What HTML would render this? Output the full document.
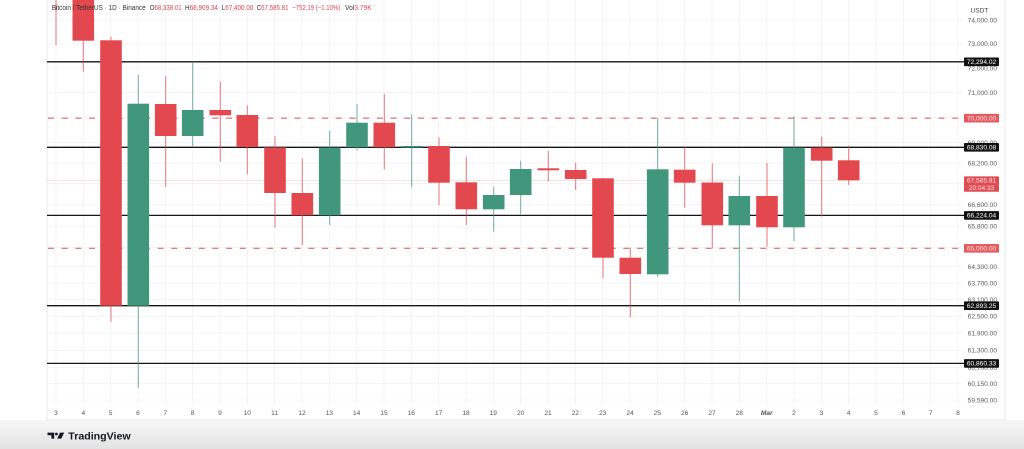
<!DOCTYPE html>
<html><head><meta charset="utf-8"><style>
html,body{margin:0;padding:0;background:#fff;}
svg{display:block;font-family:"Liberation Sans",Arial,sans-serif;}
</style></head><body>
<svg width="1024" height="449" viewBox="0 0 1024 449" xmlns="http://www.w3.org/2000/svg">
<defs>
<linearGradient id="bg" x1="0" y1="0" x2="0" y2="1">
<stop offset="0" stop-color="#f7f7f7"/><stop offset="1" stop-color="#e2e2e2"/>
</linearGradient>
</defs>
<rect x="0" y="0" width="1024" height="449" fill="#fff"/>
<rect x="0" y="420" width="1024" height="29" fill="url(#bg)"/>
<rect x="47" y="-2" width="958" height="422" fill="#fff" stroke="#e4e4e4" stroke-width="0.8"/>

<!-- horizontal grid -->
<g stroke="#f1f1f1" stroke-width="0.8">
<line x1="47" x2="963" y1="20" y2="20"/><line x1="47" x2="963" y1="43.9" y2="43.9"/>
<line x1="47" x2="963" y1="68.1" y2="68.1"/><line x1="47" x2="963" y1="92.6" y2="92.6"/>
<line x1="47" x2="963" y1="117.5" y2="117.5"/><line x1="47" x2="963" y1="142.7" y2="142.7"/>
<line x1="47" x2="963" y1="163.2" y2="163.2"/><line x1="47" x2="963" y1="183.7" y2="183.7"/>
<line x1="47" x2="963" y1="204.8" y2="204.8"/><line x1="47" x2="963" y1="226.1" y2="226.1"/>
<line x1="47" x2="963" y1="247.5" y2="247.5"/><line x1="47" x2="963" y1="266.5" y2="266.5"/>
<line x1="47" x2="963" y1="283" y2="283"/><line x1="47" x2="963" y1="299.6" y2="299.6"/>
<line x1="47" x2="963" y1="316.3" y2="316.3"/><line x1="47" x2="963" y1="333.2" y2="333.2"/>
<line x1="47" x2="963" y1="350.4" y2="350.4"/><line x1="47" x2="963" y1="367.6" y2="367.6"/>
<line x1="47" x2="963" y1="383.6" y2="383.6"/><line x1="47" x2="963" y1="400" y2="400"/>
</g>
<!-- vertical grid -->
<g stroke="#f1f1f1" stroke-width="0.8">
<line y1="0" y2="405" x1="56" x2="56"/><line y1="0" y2="405" x1="83.3" x2="83.3"/><line y1="0" y2="405" x1="110.6" x2="110.6"/><line y1="0" y2="405" x1="138" x2="138"/><line y1="0" y2="405" x1="165.3" x2="165.3"/><line y1="0" y2="405" x1="192.6" x2="192.6"/><line y1="0" y2="405" x1="220" x2="220"/><line y1="0" y2="405" x1="247.3" x2="247.3"/><line y1="0" y2="405" x1="274.6" x2="274.6"/><line y1="0" y2="405" x1="302" x2="302"/><line y1="0" y2="405" x1="329.3" x2="329.3"/><line y1="0" y2="405" x1="356.7" x2="356.7"/><line y1="0" y2="405" x1="384" x2="384"/><line y1="0" y2="405" x1="411.3" x2="411.3"/><line y1="0" y2="405" x1="438.7" x2="438.7"/><line y1="0" y2="405" x1="466" x2="466"/><line y1="0" y2="405" x1="493.3" x2="493.3"/><line y1="0" y2="405" x1="520.7" x2="520.7"/><line y1="0" y2="405" x1="548" x2="548"/><line y1="0" y2="405" x1="575.3" x2="575.3"/><line y1="0" y2="405" x1="602.7" x2="602.7"/><line y1="0" y2="405" x1="630" x2="630"/><line y1="0" y2="405" x1="657.3" x2="657.3"/><line y1="0" y2="405" x1="684.7" x2="684.7"/><line y1="0" y2="405" x1="712" x2="712"/><line y1="0" y2="405" x1="739.3" x2="739.3"/><line y1="0" y2="405" x1="766.7" x2="766.7"/><line y1="0" y2="405" x1="794" x2="794"/><line y1="0" y2="405" x1="821.4" x2="821.4"/><line y1="0" y2="405" x1="848.7" x2="848.7"/><line y1="0" y2="405" x1="876" x2="876"/><line y1="0" y2="405" x1="903.4" x2="903.4"/><line y1="0" y2="405" x1="930.7" x2="930.7"/><line y1="0" y2="405" x1="958" x2="958"/>
</g>
<!-- current price line -->
<line x1="47" x2="860" y1="180.3" y2="180.3" stroke="#efdcdc" stroke-width="0.9"/>

<!-- level lines -->
<g stroke="#161616" stroke-width="1.3">
<line x1="47" x2="964" y1="61.8" y2="61.8"/>
<line x1="47" x2="964" y1="147.3" y2="147.3"/>
<line x1="47" x2="964" y1="215.4" y2="215.4"/>
<line x1="47" x2="964" y1="305.7" y2="305.7"/>
<line x1="47" x2="964" y1="363.4" y2="363.4"/>
</g>
<g stroke="#e06868" stroke-width="1.1" stroke-dasharray="6 7.7">
<line x1="48" x2="964" y1="118.2" y2="118.2"/>
<line x1="48" x2="964" y1="248.3" y2="248.3"/>
</g>

<!-- candles -->
<g stroke-width="1" stroke-opacity="0.75">
<!-- red wicks -->
<g stroke="#e4484f">
<line x1="56" x2="56" y1="0" y2="45"/>
<line x1="83.3" x2="83.3" y1="0" y2="71.7"/>
<line x1="111" x2="111" y1="36.7" y2="321.7"/>
<line x1="165.7" x2="165.7" y1="76" y2="187"/>
<line x1="220.3" x2="220.3" y1="81.7" y2="161.7"/>
<line x1="247.3" x2="247.3" y1="105.3" y2="174.3"/>
<line x1="275" x2="275" y1="136" y2="227.7"/>
<line x1="302.3" x2="302.3" y1="158.3" y2="245"/>
<line x1="384.3" x2="384.3" y1="94" y2="169.3"/>
<line x1="439" x2="439" y1="137.3" y2="205"/>
<line x1="466.3" x2="466.3" y1="156.7" y2="225"/>
<line x1="548.3" x2="548.3" y1="151" y2="181"/>
<line x1="575.7" x2="575.7" y1="162.7" y2="190"/>
<line x1="603" x2="603" y1="177.7" y2="278.3"/>
<line x1="630.3" x2="630.3" y1="247.7" y2="317.3"/>
<line x1="684.7" x2="684.7" y1="147.3" y2="207.7"/>
<line x1="712.3" x2="712.3" y1="163.3" y2="248.3"/>
<line x1="767" x2="767" y1="163.3" y2="246.7"/>
<line x1="821.7" x2="821.7" y1="136.7" y2="216.7"/>
<line x1="848.7" x2="848.7" y1="145.7" y2="185"/>
</g>
<g stroke="#40977c">
<line x1="138.3" x2="138.3" y1="75" y2="388"/>
<line x1="192.7" x2="192.7" y1="61.7" y2="146"/>
<line x1="329.7" x2="329.7" y1="130.7" y2="225"/>
<line x1="357" x2="357" y1="104" y2="150.7"/>
<line x1="411.7" x2="411.7" y1="114.3" y2="187.3"/>
<line x1="493.7" x2="493.7" y1="186.7" y2="231.7"/>
<line x1="520.7" x2="520.7" y1="160.7" y2="214"/>
<line x1="657.7" x2="657.7" y1="118.3" y2="276.7"/>
<line x1="739.3" x2="739.3" y1="175.7" y2="301.7"/>
<line x1="794" x2="794" y1="116" y2="241"/>
</g>
</g>
<g fill="#e4484f">
<rect x="72.5" y="-1" width="21.6" height="41.7"/>
<rect x="100.2" y="40.3" width="21.6" height="265.4"/>
<rect x="154.9" y="104" width="21.6" height="32"/>
<rect x="209.5" y="110" width="21.6" height="5.3"/>
<rect x="236.5" y="115" width="21.6" height="32"/>
<rect x="264.2" y="147.5" width="21.6" height="45.5"/>
<rect x="291.5" y="193" width="21.6" height="22.3"/>
<rect x="373.5" y="122.7" width="21.6" height="24.6"/>
<rect x="428.2" y="146" width="21.6" height="36.7"/>
<rect x="455.5" y="182.3" width="21.6" height="27"/>
<rect x="537.5" y="168.3" width="21.6" height="2"/>
<rect x="564.9" y="170" width="21.6" height="9"/>
<rect x="592.2" y="178.3" width="21.6" height="79.4"/>
<rect x="619.5" y="257.7" width="21.6" height="16.3"/>
<rect x="673.9" y="169.7" width="21.6" height="13"/>
<rect x="701.5" y="182.5" width="21.6" height="42.8"/>
<rect x="756.2" y="196" width="21.6" height="31.3"/>
<rect x="810.9" y="147.7" width="21.6" height="13"/>
<rect x="837.9" y="160.3" width="21.6" height="20"/>
</g>
<g fill="#40977c">
<rect x="127.5" y="103.7" width="21.6" height="202"/>
<rect x="181.9" y="110" width="21.6" height="26"/>
<rect x="318.9" y="147.7" width="21.6" height="67.6"/>
<rect x="346.2" y="122.7" width="21.6" height="24.6"/>
<rect x="400.9" y="146" width="21.6" height="1.5"/>
<rect x="482.9" y="195" width="21.6" height="14.3"/>
<rect x="509.9" y="169" width="21.6" height="26"/>
<rect x="646.9" y="169.3" width="21.6" height="105"/>
<rect x="728.5" y="196" width="21.6" height="29.3"/>
<rect x="783.2" y="147.7" width="21.6" height="79.6"/>
</g>

<!-- header legend -->
<g font-size="7" fill="#333">
<text x="51.7" y="9.8" textLength="94" lengthAdjust="spacingAndGlyphs">Bitcoin / TetherUS · 1D · Binance</text>
<text x="149.7" y="9.8" textLength="32" lengthAdjust="spacingAndGlyphs">O<tspan fill="#e0474f">68,338.01</tspan></text>
<text x="185" y="9.8" textLength="33" lengthAdjust="spacingAndGlyphs">H<tspan fill="#e0474f">68,909.34</tspan></text>
<text x="221.7" y="9.8" textLength="31.6" lengthAdjust="spacingAndGlyphs">L<tspan fill="#e0474f">67,400.00</tspan></text>
<text x="256.7" y="9.8" textLength="31.8" lengthAdjust="spacingAndGlyphs">C<tspan fill="#e0474f">67,585.81</tspan></text>
<text x="292.3" y="9.8" textLength="48" lengthAdjust="spacingAndGlyphs" fill="#e0474f">−752.19 (−1.10%)</text>
<text x="345" y="9.8" textLength="26.7" lengthAdjust="spacingAndGlyphs">Vol<tspan fill="#e0474f">3.79K</tspan></text>
</g>

<!-- price axis labels -->
<g font-size="6.6" fill="#5a5a5a" text-anchor="end">
<text x="997" y="22.3">74,000.00</text>
<text x="997" y="46.2">73,000.00</text>
<text x="997" y="70.4">72,000.00</text>
<text x="997" y="94.9">71,000.00</text>
<text x="997" y="119.8">70,000.00</text>
<text x="997" y="145">69,000.00</text>
<text x="997" y="165.5">68,200.00</text>
<text x="997" y="186">67,400.00</text>
<text x="997" y="207.1">66,600.00</text>
<text x="997" y="228.4">65,800.00</text>
<text x="997" y="249.8">65,000.00</text>
<text x="997" y="268.8">64,300.00</text>
<text x="997" y="285.3">63,700.00</text>
<text x="997" y="301.9">63,100.00</text>
<text x="997" y="318.6">62,500.00</text>
<text x="997" y="335.5">61,900.00</text>
<text x="997" y="352.7">61,300.00</text>
<text x="997" y="369.9">60,700.00</text>
<text x="997" y="385.9">60,150.00</text>
<text x="997" y="402.3">59,590.00</text>
</g>
<rect x="966" y="3" width="34" height="13" fill="#fff"/>
<text x="970.5" y="12.3" font-size="6.6" fill="#444">USDT</text>

<!-- level boxes -->
<g>
<rect x="964" y="57.5" width="35" height="8.6" fill="#111" rx="0.8"/>
<rect x="964" y="143" width="35" height="8.6" fill="#111" rx="0.8"/>
<rect x="964" y="211.1" width="35" height="8.6" fill="#111" rx="0.8"/>
<rect x="964" y="301.4" width="35" height="8.6" fill="#111" rx="0.8"/>
<rect x="964" y="359.1" width="35" height="8.6" fill="#111" rx="0.8"/>
<rect x="964" y="113.9" width="35" height="8.6" fill="#e35a60" rx="0.8"/>
<rect x="964" y="244" width="35" height="8.6" fill="#e35a60" rx="0.8"/>
<rect x="964" y="176.4" width="35" height="15.4" fill="#e14c53" rx="0.8"/>
</g>
<g font-size="6.6" fill="#fff" text-anchor="middle">
<text x="981.5" y="64.1">72,294.02</text>
<text x="981.5" y="149.6">68,830.08</text>
<text x="981.5" y="217.7">66,224.04</text>
<text x="981.5" y="308">62,893.25</text>
<text x="981.5" y="365.7">60,860.33</text>
<text x="981.5" y="120.5" fill="#fbe3e3">70,000.00</text>
<text x="981.5" y="250.6" fill="#fbe3e3">65,000.00</text>
<text x="981.5" y="182.6" fill="#fbe3e3">67,585.81</text>
<text x="981.5" y="190" fill="#fbe3e3">20:04:33</text>
</g>

<!-- x axis labels -->
<g font-size="6.6" fill="#555" text-anchor="middle">
<text x="56" y="415">3</text><text x="83.3" y="415">4</text><text x="110.6" y="415">5</text><text x="138" y="415">6</text><text x="165.3" y="415">7</text><text x="192.6" y="415">8</text><text x="220" y="415">9</text><text x="247.3" y="415">10</text><text x="274.6" y="415">11</text><text x="302" y="415">12</text><text x="329.3" y="415">13</text><text x="356.7" y="415">14</text><text x="384" y="415">15</text><text x="411.3" y="415">16</text><text x="438.7" y="415">17</text><text x="466" y="415">18</text><text x="493.3" y="415">19</text><text x="520.7" y="415">20</text><text x="548" y="415">21</text><text x="575.3" y="415">22</text><text x="602.7" y="415">23</text><text x="630" y="415">24</text><text x="657.3" y="415">25</text><text x="684.7" y="415">26</text><text x="712" y="415">27</text><text x="739.3" y="415">28</text><text x="766.7" y="415" font-weight="bold" font-style="italic">Mar</text><text x="794" y="415">2</text><text x="821.4" y="415">3</text><text x="848.7" y="415">4</text><text x="876" y="415">5</text><text x="903.4" y="415">6</text><text x="930.7" y="415">7</text><text x="958" y="415">8</text>
</g>

<!-- TradingView logo -->
<g fill="#131722">
<path d="M47.5,432.6 H54.2 V438.6 H51.4 V435.2 H47.5 Z"/>
<circle cx="56.4" cy="434" r="1.4"/>
<path d="M60,432.6 H64.2 L61.3,438.6 H57.3 Z"/>
<text x="68.3" y="439.3" font-size="10.5" font-weight="bold" textLength="62.4" lengthAdjust="spacingAndGlyphs">TradingView</text>
</g>
</svg>
</body></html>
